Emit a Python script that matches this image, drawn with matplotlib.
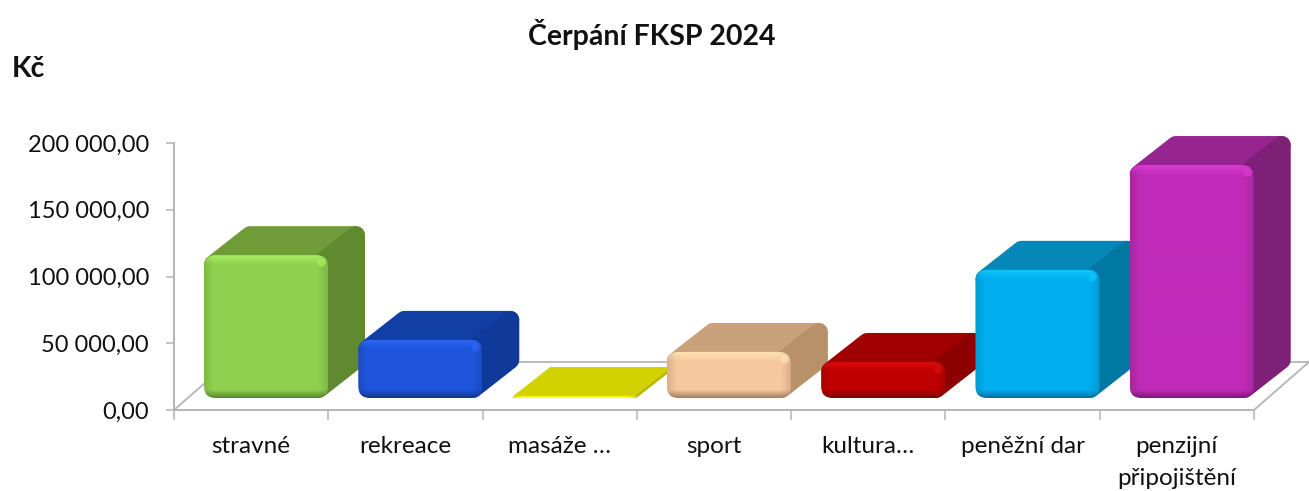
import numpy as np
import matplotlib
matplotlib.use("Agg")
import matplotlib.pyplot as plt
from matplotlib.colors import to_rgb
from matplotlib.patches import FancyBboxPatch, Polygon

categories = ["stravné", "rekreace", "masáže …", "sport", "kultura…", "peněžní dar", "penzijní\npřipojištění"]
values = [107000, 43500, 1500, 34500, 27000, 96000, 174500]
yticks = [0, 50000, 100000, 150000, 200000]
yticklabels = ["0,00", "50 000,00", "100 000,00", "150 000,00", "200 000,00"]

face_colors = ["#8fd14f", "#1f55dc", "#e6e600", "#f7c89d", "#c00000", "#00aeef", "#bf2bb8"]
top_colors = ["#6f9c38", "#123fa6", "#d2d200", "#c9a27c", "#a00000", "#0587b8", "#96258f"]
side_colors = ["#5f8a30", "#0f3a9a", "#b8b800", "#b8906a", "#8c0000", "#0078a4", "#7e1f78"]
grey = "#b4b4b4"

W, H = 1309, 491
fig = plt.figure(figsize=(W / 100, H / 100), dpi=100)
plt.rcParams["font.family"] = ["Lato", "DejaVu Sans"]
# plot area in pixels: x 174..1254, y 143..410
ax = fig.add_axes([174 / W, 1 - 410 / H, 1080 / W, 267 / H])
ax.patch.set_alpha(0)
PX = 7 / 1080.0          # data x per pixel
PY = 200000 / 267.0      # data y per pixel


def blend(a, b, t):
    return a + (b - a) * t


def draw_bar(i, val, face, top, side, z):
    x0 = i + 30 * PX
    x1 = x0 + 124 * PX
    y0 = 12 * PY
    y1 = y0 + val
    dx, dy = 37 * PX, 29 * PY
    h_px = val / PY
    r = 9 if h_px > 10 else 1
    rx, ry = r * PX, r * PY
    lw = 2 * r * 0.72
    # top and side are drawn inset, the thick round edge gives the soft corners
    top_pts = [(x0 + rx, y1 - ry), (x1 - rx, y1 - ry), (x1 + dx - rx, y1 + dy - ry), (x0 + dx + rx, y1 + dy - ry)]
    side_pts = [(x1 - rx, y0 + ry), (x1 - rx, y1 - ry), (x1 + dx - rx, y1 + dy - ry), (x1 + dx - rx, y0 + dy + ry)]
    ax.add_patch(Polygon(top_pts, closed=True, fc=top, ec=top, lw=lw, joinstyle="round", zorder=z, clip_on=False))
    ax.add_patch(Polygon(side_pts, closed=True, fc=side, ec=side, lw=lw, joinstyle="round", zorder=z + 0.1, clip_on=False))

    # front face with bevel shading
    nx, ny = 124, max(int(h_px), 2)
    xx, yy = np.meshgrid(np.arange(nx) + 0.5, np.arange(ny) + 0.5)
    f = np.array(to_rgb(face))
    hi = np.clip(f * 1.08 + 0.05, 0, 1)
    lo = f * 0.62
    t_top = np.clip(1 - yy / 10, 0, 1)[..., None]
    t_bot = np.clip(1 - (ny - yy) / 8, 0, 1)[..., None]
    t_side = np.clip(1 - np.minimum(xx, nx - xx) / 10, 0, 1)[..., None]
    img = f + (hi - f) * t_top
    img = img + (f * 0.88 - f) * t_side
    if h_px > 10:
        img = blend(img, lo, t_bot)
    im = ax.imshow(np.clip(img, 0, 1), extent=(x0, x1, y0, y1), origin="upper", aspect="auto",
                   zorder=z + 0.2, interpolation="bilinear")
    clip = FancyBboxPatch((x0, y0), x1 - x0, val, boxstyle=f"round,pad=0,rounding_size={1.3 * r * PX}",
                          mutation_aspect=PY / PX, fc="none", ec="none", zorder=z + 0.2)
    ax.add_patch(clip)
    im.set_clip_path(clip)
    if h_px > 10:
        # small bright spot where the three faces meet
        ax.plot([x1 - 7 * PX], [y1 - 7 * PY], "o", ms=6, mfc=hi, mec="none", alpha=0.7, zorder=z + 0.3)


# floor edges behind the bars
fdx, fdy = 55 * PX, 48 * PY
ax.plot([0, fdx, 7 + fdx], [0, fdy, fdy], color=grey, lw=1.3, zorder=1, clip_on=False)
ax.plot([7, 7 + fdx], [0, fdy], color=grey, lw=1.3, zorder=1, clip_on=False)

for i, val in enumerate(values):
    draw_bar(i, val, face_colors[i], top_colors[i], side_colors[i], 3 + i)

ax.set_xlim(0, 7)
ax.set_ylim(0, 200000)
ax.set_yticks(yticks)
ax.set_yticklabels(yticklabels, fontsize=17, color="#111111")
ax.set_xticks(np.arange(8))
ax.set_xticklabels([])
ax.set_xticks(np.arange(7) + 0.5, minor=True)
ax.set_xticklabels(categories, minor=True, fontsize=17.5, color="#111111", linespacing=1.6)
ax.tick_params(axis="x", which="minor", length=0, pad=19)
ax.tick_params(axis="x", which="major", length=7.5, width=1.1, color=grey)
ax.tick_params(axis="y", length=6, width=1.1, color=grey, pad=12)
for s in ["top", "right"]:
    ax.spines[s].set_visible(False)
for s in ["left", "bottom"]:
    ax.spines[s].set_color(grey)
    ax.spines[s].set_linewidth(1.4)

fig.text(652 / W, 1 - 34 / H, "Čerpání FKSP 2024", fontsize=20.5, fontweight="bold", ha="center", va="center", color="#111111")
fig.text(12 / W, 1 - 69 / H, "Kč", fontsize=20.5, fontweight="bold", ha="left", va="center", color="#111111")

fig.savefig("out.png", dpi=100)
